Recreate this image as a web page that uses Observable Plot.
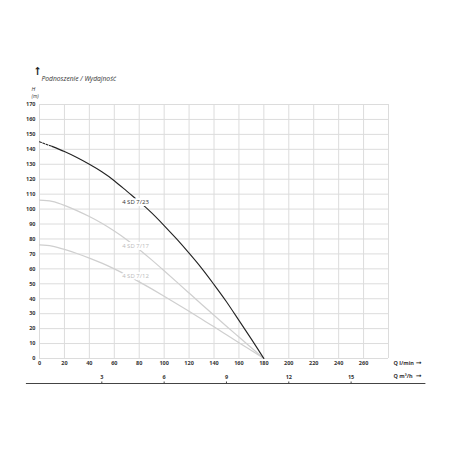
<!DOCTYPE html>
<html><head><meta charset="utf-8">
<script src="https://cdn.jsdelivr.net/npm/d3@7"></script>
<script src="https://cdn.jsdelivr.net/npm/@observablehq/plot@0.6"></script>
<style>body{margin:0;background:#fff;} svg{display:block}</style>
</head><body><div id="chart"></div>
<script>
const flow    = [0, 10, 20, 30, 40, 50, 60, 70, 80, 90, 100, 110, 120, 130, 140, 150, 160, 170, 180];
const head723 = [145, 142, 138.5, 134.5, 130, 125, 119, 112, 105, 97.5, 89, 80, 70.5, 60.5, 49.5, 38, 25.5, 13, 0];
const head717 = [106, 105.2, 102.5, 99, 95, 90.5, 85.3, 79.5, 73, 66, 58.7, 51.3, 43.8, 36.3, 28.9, 21.6, 14.4, 7.2, 0];
const head712 = [76, 75.2, 73, 70.3, 67.2, 63.8, 60, 55.8, 51.3, 46.6, 41.7, 36.7, 31.6, 26.4, 21.2, 15.9, 10.6, 5.3, 0];
const pumpNames = ["4 SD 7/23", "4 SD 7/17", "4 SD 7/12"];
const labelFlow = [77, 77, 77];
const labelHead = [105, 75, 55];
const dashedUpTo = 10;
const xTicks = [0, 20, 40, 60, 80, 100, 120, 140, 160, 180, 200, 220, 240, 260];
const xGrid  = [0, 20, 40, 60, 80, 100, 120, 140, 160, 180, 200, 220, 240, 260, 280];
const yTicks = [0, 10, 20, 30, 40, 50, 60, 70, 80, 90, 100, 110, 120, 130, 140, 150, 160, 170];
const m3hTicks = [3, 6, 9, 12, 15];
const m3hExtent = [-10.5, 310];
const lminPerM3h = 50 / 3;

const rows = (name, heads) => flow.map((q, i) => ({name, q, h: heads[i]}));
const main = rows(pumpNames[0], head723);
const mainDashed = main.filter(d => d.q <= dashedUpTo);
const mainSolid = main.filter(d => d.q >= dashedUpTo);
const p17 = rows(pumpNames[1], head717);
const p12 = rows(pumpNames[2], head712);
const labels = pumpNames.map((n, i) => ({n, q: labelFlow[i], h: labelHead[i], c: i === 0 ? "#333" : "#bbb"}));

const font = "'Open Sans', sans-serif";
const arrowFont = "'DejaVu Sans', sans-serif";
const chart = Plot.plot({
  width: 456, height: 456,
  marginLeft: 39, marginRight: 68, marginTop: 104, marginBottom: 98,
  style: {fontFamily: font, fontSize: "5.5px", color: "#333", background: "#fff"},
  x: {domain: [0, 280], label: null},
  y: {domain: [0, 170], label: null},
  marks: [
    Plot.gridX(xGrid, {stroke: "#dcdcdc", strokeOpacity: 1}),
    Plot.gridY(yTicks, {stroke: "#dcdcdc", strokeOpacity: 1}),
    Plot.axisY(yTicks, {tickSize: 0, tickPadding: 4, fontWeight: "bold", label: null}),
    Plot.axisX(xTicks, {anchor: "bottom", tickSize: 0, tickPadding: 3, fontWeight: "bold", label: null}),
    Plot.axisX(m3hTicks.map(v => v * lminPerM3h), {anchor: "top", dy: 279, tickSize: 2.5, tickPadding: 2, fontWeight: "bold", stroke: "#444", tickFormat: d => Math.round(d / lminPerM3h), label: null}),
    Plot.ruleY([0], {x1: m3hExtent[0], x2: m3hExtent[1], dy: 25, stroke: "#444", strokeWidth: 1}),
    Plot.line(p12, {x: "q", y: "h", stroke: "#cfcfcf", strokeWidth: 1.2, curve: "natural"}),
    Plot.line(p17, {x: "q", y: "h", stroke: "#cfcfcf", strokeWidth: 1.2, curve: "natural"}),
    Plot.line(mainDashed, {x: "q", y: "h", stroke: "#222", strokeWidth: 1.1, strokeDasharray: "2,1.5", curve: "natural"}),
    Plot.line(mainSolid, {x: "q", y: "h", stroke: "#222", strokeWidth: 1.1, curve: "natural"}),
    Plot.text(labels, {x: "q", y: "h", text: "n", fill: "c", stroke: "white", strokeWidth: 4, fontSize: 6, textAnchor: "middle"}),
    Plot.text(["Podnoszenie / Wydajność"], {frameAnchor: "top-left", dx: 2, dy: -28, textAnchor: "start", fontStyle: "italic", fontSize: 6.7, fill: "#333"}),
    Plot.text(["➞"], {frameAnchor: "top-left", dx: -6, dy: -29, rotate: -90, fontFamily: arrowFont, fontSize: 11, fill: "#222"}),
    Plot.text(["H"], {frameAnchor: "top-left", dx: -8, dy: -17, fontStyle: "italic", fontSize: 5.5, fill: "#333"}),
    Plot.text(["(m)"], {frameAnchor: "top-left", dx: -8, dy: -10, fontStyle: "italic", fontSize: 5, fill: "#333"}),
    Plot.text(["Q l/min"], {frameAnchor: "bottom-right", dx: 5, dy: 6, textAnchor: "start", fontWeight: "bold", fontSize: 5.5, fill: "#333"}),
    Plot.text(["Q m³/h"], {frameAnchor: "bottom-right", dx: 5, dy: 19, textAnchor: "start", fontWeight: "bold", fontSize: 5.5, fill: "#333"}),
    Plot.text(["➞"], {frameAnchor: "bottom-right", dx: 33, dy: 6, fontFamily: arrowFont, fontSize: 7, fill: "#222"}),
    Plot.text(["➞"], {frameAnchor: "bottom-right", dx: 33, dy: 19, fontFamily: arrowFont, fontSize: 7, fill: "#222"})
  ]
});
document.getElementById("chart").append(chart);
</script>
</body></html>
